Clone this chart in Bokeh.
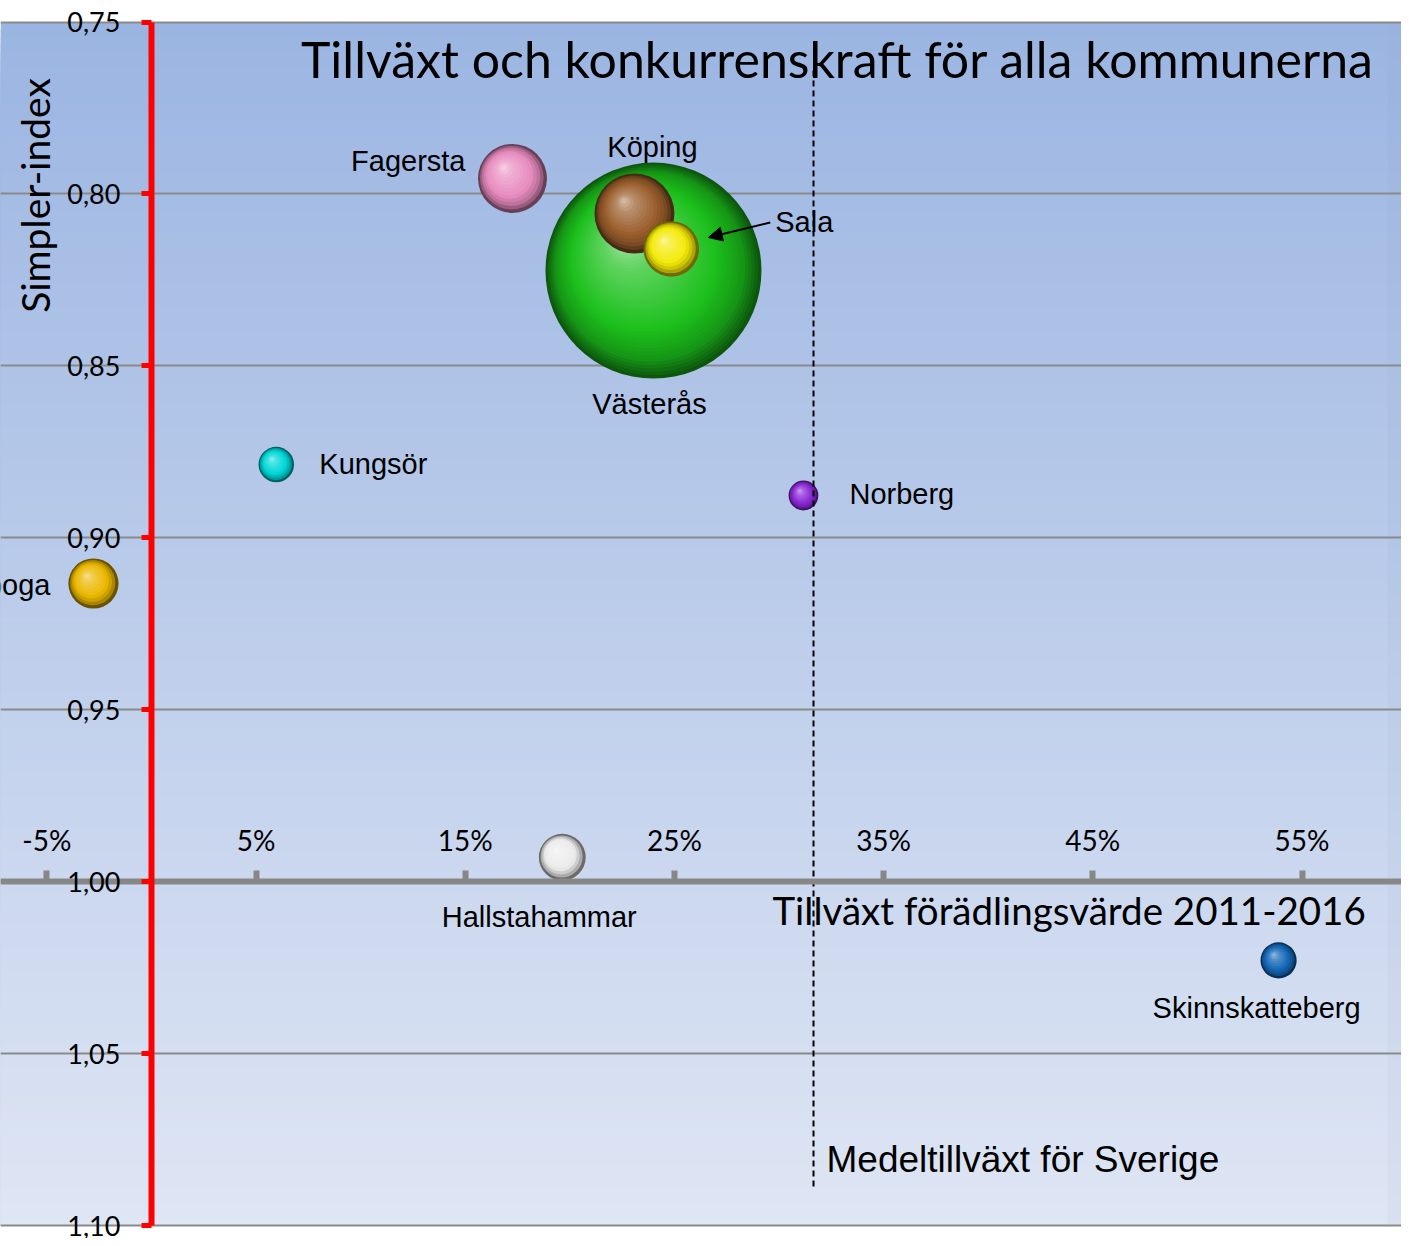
import numpy as np
from bokeh.plotting import figure
from bokeh.models import Range1d, LinearAxis, FixedTicker, Grid, Arrow, NormalHead, Label
from bokeh.embed import file_html
from bokeh.resources import INLINE
from bokeh.core.properties import value

# ---------------- data ----------------
kommuner = ["Västerås", "Fagersta", "Köping", "Sala", "Kungsör", "Norberg",
            "Arboga", "Hallstahammar", "Skinnskatteberg"]
tillvaxt = [24.00, 17.26, 23.09, 24.85, 5.97, 31.17, -2.77, 19.64, 53.88]   # % 2011-2016
simpler = [0.8223, 0.7955, 0.8057, 0.8160, 0.8787, 0.8877, 0.9133, 0.9929, 1.0229]
storlek = [100.0, 10.2, 13.7, 6.6, 2.7, 1.9, 5.4, 4.7, 2.8]   # relative bubble area
farger = ["#1cc01c", "#e88cc0", "#9a5e2c", "#f4ea0a", "#00d8d8", "#8c2ad8",
          "#ebb800", "#ececec", "#1468b8"]
medel_sverige = 31.65

x_ticks = [-5, 5, 15, 25, 35, 45, 55]
x_tick_labels = ["-5%", "5%", "15%", "25%", "35%", "45%", "55%"]
y_ticks = [0.75, 0.80, 0.85, 0.90, 0.95, 1.00, 1.05, 1.10]
y_tick_labels = ["0,75", "0,80", "0,85", "0,90", "0,95", "1,00", "1,05", "1,10"]

# ---------------- layout ----------------
FIG_W, FIG_H = 1401, 1238
PX_X = 20.92
PX_Y = 3438.6
X0 = -150.9 / PX_X
X1 = X0 + FIG_W / PX_X
Y_TOP = 0.75 - 21.5 / PX_Y
Y_BOT = Y_TOP + FIG_H / PX_Y
R_MAX = 108.0

# label layout: (dx px, dy px, align)
label_layout = {
    "Västerås": (-4, 133, "center"),
    "Fagersta": (-47, -17, "right"),
    "Köping": (18, -67, "center"),
    "Sala": (104, -27, "left"),
    "Kungsör": (43, -1, "left"),
    "Norberg": (46, -1, "left"),
    "Arboga": (-43, 1, "right"),
    "Hallstahammar": (-23, 60, "center"),
    "Skinnskatteberg": (-22, 48, "center"),
}

p = figure(width=FIG_W, height=FIG_H, x_range=Range1d(X0, X1),
           y_range=Range1d(Y_BOT, Y_TOP), x_axis_type=None, y_axis_type=None,
           toolbar_location=None, output_backend="svg", min_border=0,
           outline_line_color=None, background_fill_color="white",
           border_fill_color="white")
p.xgrid.visible = False
p.ygrid.visible = False

# background gradient
top_c = np.array([155, 181, 226])
bot_c = np.array([223, 230, 244])
n_bands = 160
band_tops = np.linspace(y_ticks[0], y_ticks[-1], n_bands, endpoint=False)
band_cols = []
for yt in band_tops:
    f = (yt - y_ticks[0]) / (y_ticks[-1] - y_ticks[0])
    c = top_c + (bot_c - top_c) * f
    band_cols.append("#%02x%02x%02x" % tuple(int(round(v)) for v in c))
p.quad(left=X0, right=X1, top=band_tops, bottom=y_ticks[-1], fill_color=band_cols,
       line_color=None, level="image")
# slightly darker strip at the right edge of the plot area
p.quad(left=[X1 - 14 / PX_X], right=[X1], top=[y_ticks[0]], bottom=[y_ticks[-1]],
       fill_color="#6f86b8", fill_alpha=0.05, line_color=None, level="image")

grid = Grid(dimension=1, ticker=FixedTicker(ticks=y_ticks), grid_line_color="#8a8a8a",
            grid_line_width=2)
p.add_layout(grid)


def hexcol(c):
    c = np.clip(c, 0, 255)
    return "#%02x%02x%02x" % tuple(int(round(v)) for v in c)


def shade(base, t):
    b = np.array([int(base[i:i + 2], 16) for i in (1, 3, 5)], dtype=float)
    white = np.array([255.0, 255, 255])
    stops = [(0.0, b * 0.45), (0.12, b * 0.78), (0.32, b),
             (0.75, b + (white - b) * 0.3), (1.0, b + (white - b) * 0.65)]
    for (t0, c0), (t1, c1) in zip(stops[:-1], stops[1:]):
        if t <= t1:
            f = (t - t0) / (t1 - t0)
            return hexcol(c0 + (c1 - c0) * f)
    return hexcol(stops[-1][1])


# bubbles
for name, xv, yv, s, col in zip(kommuner, tillvaxt, simpler, storlek, farger):
    R = R_MAX * np.sqrt(s / 100.0)
    K = max(10, int(R / 2.5))
    xs, ys, sizes, cols = [], [], [], []
    for i in range(K):
        t = i / K
        r = R * (1 - t)
        xs.append(xv - 0.28 * R * t / PX_X)
        ys.append(yv - 0.33 * R * t / PX_Y)
        sizes.append(2 * r)
        cols.append(shade(col, t))
    p.scatter(x=xs, y=ys, size=sizes, marker="circle", fill_color=cols, line_color=None)

# mean line
p.segment(x0=[medel_sverige], y0=[0.7641], x1=[medel_sverige], y1=[1.0898],
          line_color="black", line_width=2, line_dash="6 4")

# city labels
for name, xv, yv in zip(kommuner, tillvaxt, simpler):
    dx, dy, al = label_layout[name]
    p.text(x=[xv + dx / PX_X], y=[yv + dy / PX_Y], text=[name], text_align=al,
           text_baseline="middle", text_font=value("Liberation Sans"),
           text_font_size="29px", text_color="black")

# arrow to Sala
si = kommuner.index("Sala")
sx, sy = tillvaxt[si], simpler[si]
p.add_layout(Arrow(end=NormalHead(size=14, fill_color="black", line_color="black"),
                   x_start=sx + 99 / PX_X, y_start=sy - 26.5 / PX_Y,
                   x_end=sx + 37 / PX_X, y_end=sy - 11.5 / PX_Y,
                   line_color="black", line_width=2))

# axes
xaxis = LinearAxis(fixed_location=1.0, ticker=FixedTicker(ticks=x_ticks),
                   major_label_overrides=dict(zip(x_ticks, x_tick_labels)),
                   axis_line_color="#878787", axis_line_width=6,
                   major_tick_line_color="#878787", major_tick_line_width=6,
                   major_tick_out=11, major_tick_in=0, minor_tick_line_color=None,
                   major_label_text_font="Lato", major_label_text_font_size="28px",
                   major_label_text_color="black", major_label_standoff=14)
p.add_layout(xaxis, "above")

yaxis = LinearAxis(fixed_location=0, ticker=FixedTicker(ticks=y_ticks),
                   major_label_overrides=dict(zip(y_ticks, y_tick_labels)),
                   bounds=(y_ticks[0], y_ticks[-1]),
                   axis_line_color="red", axis_line_width=6,
                   major_tick_line_color="red", major_tick_line_width=5,
                   major_tick_out=10, major_tick_in=0, minor_tick_line_color=None,
                   major_label_text_font="Lato", major_label_text_font_size="27px",
                   major_label_text_color="black", major_label_standoff=21)
p.add_layout(yaxis, "left")

# texts
p.add_layout(Label(x=(837 - 150.9) / PX_X, y=0.75 + (58 - 21.5) / PX_Y,
                   text="Tillväxt och konkurrenskraft för alla kommunerna",
                   text_font="Lato", text_font_size="50px", text_align="center",
                   text_baseline="middle", text_color="black"))
p.add_layout(Label(x=(34 - 150.9) / PX_X, y=0.75 + (195 - 21.5) / PX_Y,
                   text="Simpler-index", angle=np.pi / 2,
                   text_font="Lato", text_font_size="39px", text_align="center",
                   text_baseline="middle", text_color="black"))
p.add_layout(Label(x=(772 - 150.9) / PX_X, y=0.75 + (909 - 21.5) / PX_Y,
                   text="Tillväxt förädlingsvärde 2011-2016",
                   text_font="Lato", text_font_size="38.5px", text_align="left",
                   text_baseline="middle", text_color="black"))
p.add_layout(Label(x=(826 - 150.9) / PX_X, y=0.75 + (1159 - 21.5) / PX_Y,
                   text="Medeltillväxt för Sverige",
                   text_font="Liberation Sans", text_font_size="37px", text_align="left",
                   text_baseline="middle", text_color="black"))

open("out.html", "w").write(file_html(p, INLINE))
